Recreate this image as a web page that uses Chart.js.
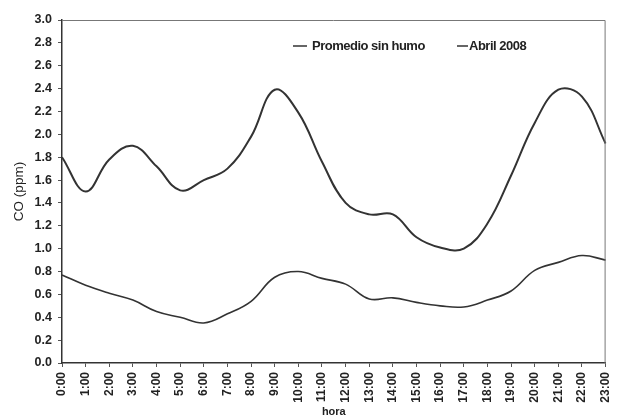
<!DOCTYPE html>
<html lang="es">
<head>
    <meta charset="UTF-8">
    <title>CO horario</title>
    <script src="https://cdn.jsdelivr.net/npm/chart.js"></script>
    <style>
        html, body { margin: 0; padding: 0; background: #fff; }
        #wrap { width: 625px; height: 419px; }
    </style>
</head>
<body>
    <div id="wrap">
        <canvas id="coChart" width="625" height="419"></canvas>
    </div>

    <script>
        // Hourly CO concentration (ppm)
        const horas = ['0:00', '1:00', '2:00', '3:00', '4:00', '5:00', '6:00', '7:00',
            '8:00', '9:00', '10:00', '11:00', '12:00', '13:00', '14:00', '15:00',
            '16:00', '17:00', '18:00', '19:00', '20:00', '21:00', '22:00', '23:00'];

        const promedioSinHumo = [0.77, 0.68, 0.61, 0.55, 0.45, 0.40, 0.35, 0.43,
            0.54, 0.75, 0.80, 0.74, 0.69, 0.56, 0.57, 0.53,
            0.50, 0.49, 0.55, 0.63, 0.81, 0.88, 0.94, 0.90];

        const abril2008 = [1.80, 1.50, 1.78, 1.90, 1.72, 1.51, 1.60, 1.70,
            1.98, 2.39, 2.19, 1.76, 1.40, 1.30, 1.30, 1.10,
            1.01, 1.00, 1.22, 1.64, 2.10, 2.39, 2.33, 1.92];

        const lineColor = '#333';
        const tickFont = { family: 'Liberation Sans', size: 12, weight: 'bold' };

        // frame on top/right plus the legend inside the plot
        const framePlugin = {
            id: 'frame',
            afterDraw(chart) {
                const { ctx, chartArea: a } = chart;
                ctx.save();
                ctx.strokeStyle = '#777';
                ctx.lineWidth = 1;
                ctx.beginPath();
                ctx.moveTo(a.left, a.top + 0.5);
                ctx.lineTo(a.right - 0.5, a.top + 0.5);
                ctx.lineTo(a.right - 0.5, a.bottom);
                ctx.stroke();

                ctx.font = 'bold 13px "Liberation Sans"';
                ctx.letterSpacing = '-0.5px';
                ctx.fillStyle = '#222';
                ctx.textBaseline = 'middle';
                ctx.strokeStyle = lineColor;
                ctx.lineWidth = 1.5;
                const y = 46;
                const items = [
                    { text: chart.data.datasets[0].label, x: 293, len: 14 },
                    { text: chart.data.datasets[1].label, x: 457, len: 11 }
                ];
                items.forEach(it => {
                    ctx.beginPath();
                    ctx.moveTo(it.x, y);
                    ctx.lineTo(it.x + it.len, y);
                    ctx.stroke();
                    ctx.fillText(it.text, it.x + it.len + (it.len > 12 ? 5 : 1), y);
                });
                ctx.restore();
            }
        };

        new Chart(document.getElementById('coChart'), {
            type: 'line',
            data: {
                labels: horas,
                datasets: [{
                    label: 'Promedio sin humo',
                    data: promedioSinHumo,
                    borderColor: lineColor,
                    borderWidth: 1.6,
                    pointRadius: 0,
                    tension: 0.4,
                    fill: false
                }, {
                    label: 'Abril 2008',
                    data: abril2008,
                    borderColor: lineColor,
                    borderWidth: 2,
                    pointRadius: 0,
                    tension: 0.4,
                    fill: false
                }]
            },
            options: {
                responsive: false,
                animation: false,
                layout: { padding: { top: 20, right: 7, left: 0, bottom: 0 } },
                plugins: {
                    legend: { display: false },
                    tooltip: { enabled: false }
                },
                scales: {
                    x: {
                        offset: false,
                        grid: { display: true, drawOnChartArea: false, tickLength: 4, color: '#555' },
                        border: { color: '#333', width: 1.5 },
                        ticks: {
                            minRotation: 90,
                            maxRotation: 90,
                            autoSkip: false,
                            padding: 5,
                            color: '#222',
                            font: tickFont
                        },
                        title: {
                            display: true,
                            text: 'hora',
                            color: '#222',
                            font: { family: 'Liberation Sans', size: 11, weight: 'bold' },
                            padding: { top: -3, bottom: 0 }
                        },
                        afterFit(scale) { scale.height = 56; }
                    },
                    y: {
                        min: 0,
                        max: 3,
                        grid: { display: true, drawOnChartArea: false, tickLength: 4, color: '#555' },
                        border: { color: '#333', width: 1.5 },
                        ticks: {
                            stepSize: 0.2,
                            padding: 6,
                            color: '#222',
                            font: { family: 'Liberation Sans', size: 12.5, weight: 'bold' },
                            callback: v => Number(v).toFixed(1)
                        },
                        title: {
                            display: true,
                            text: 'CO (ppm)',
                            color: '#222',
                            font: { family: 'Liberation Sans', size: 13.5 },
                            padding: { top: 11, bottom: 0 }
                        },
                        afterFit(scale) { scale.width = 62; }
                    }
                }
            },
            plugins: [framePlugin]
        });
    </script>
</body>
</html>
